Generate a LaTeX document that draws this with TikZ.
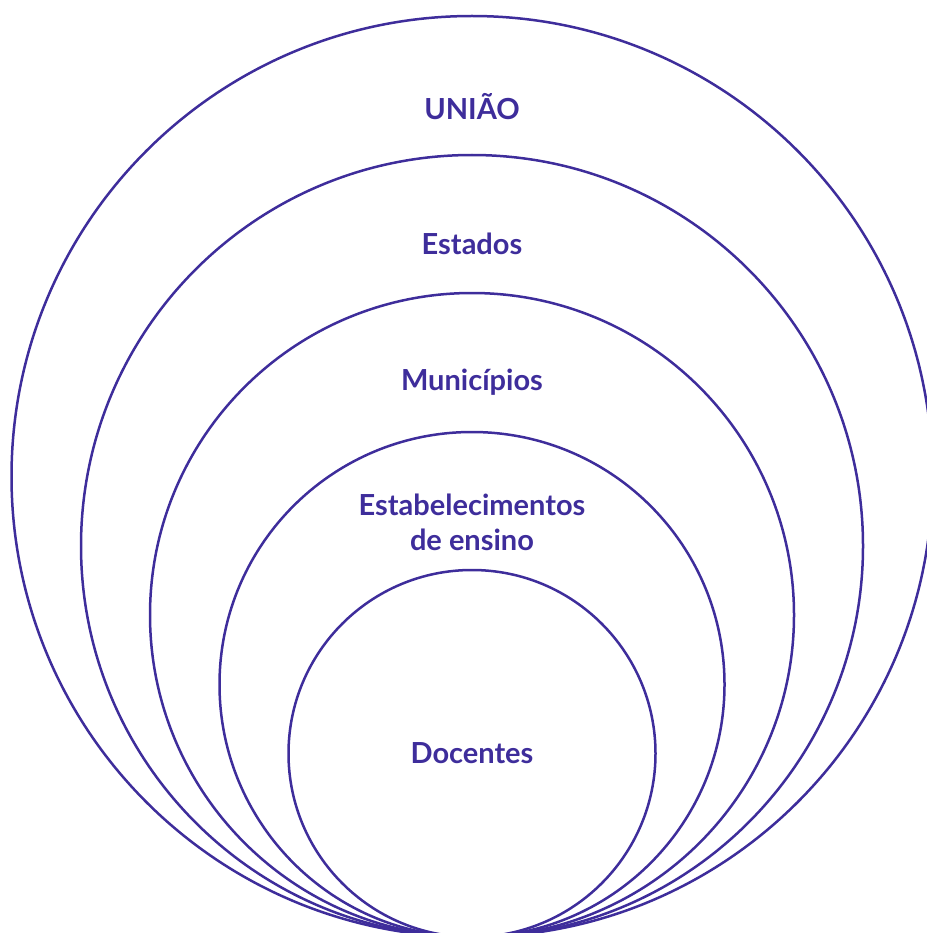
\documentclass[tikz,border=0pt]{standalone}
\usepackage{fontspec}
\setmainfont{Lato}
\definecolor{ink}{RGB}{62,45,155}

\begin{document}
\begin{tikzpicture}[
        x=1pt, y=-1pt,
        ring/.style={draw=ink,line width=2.5pt},
        every node/.style={text=ink,font=\fontsize{29}{35}\selectfont\bfseries,align=center,inner sep=0pt}
    ]
        \useasboundingbox (0,0) rectangle (926,933);
        % nested rings, all touching at the bottom
        \draw[ring] (472,476.5) circle (460.5);
        \draw[ring] (472,546) circle (391);
        \draw[ring] (472,615) circle (322);
        \draw[ring] (472,684.5) circle (252.5);
        \draw[ring] (472,753.5) circle (183.5);
        \node (uniao) at (472,107) {UNIÃO};
        \node (estados) at (472,244) {Estados};
        \node (municipios) at (472,382) {Municípios};
        \node (escolas) at (472,522) {Estabelecimentos\\de ensino};
        \node (docentes) at (472,753) {Docentes};
    \end{tikzpicture}
\end{document}
